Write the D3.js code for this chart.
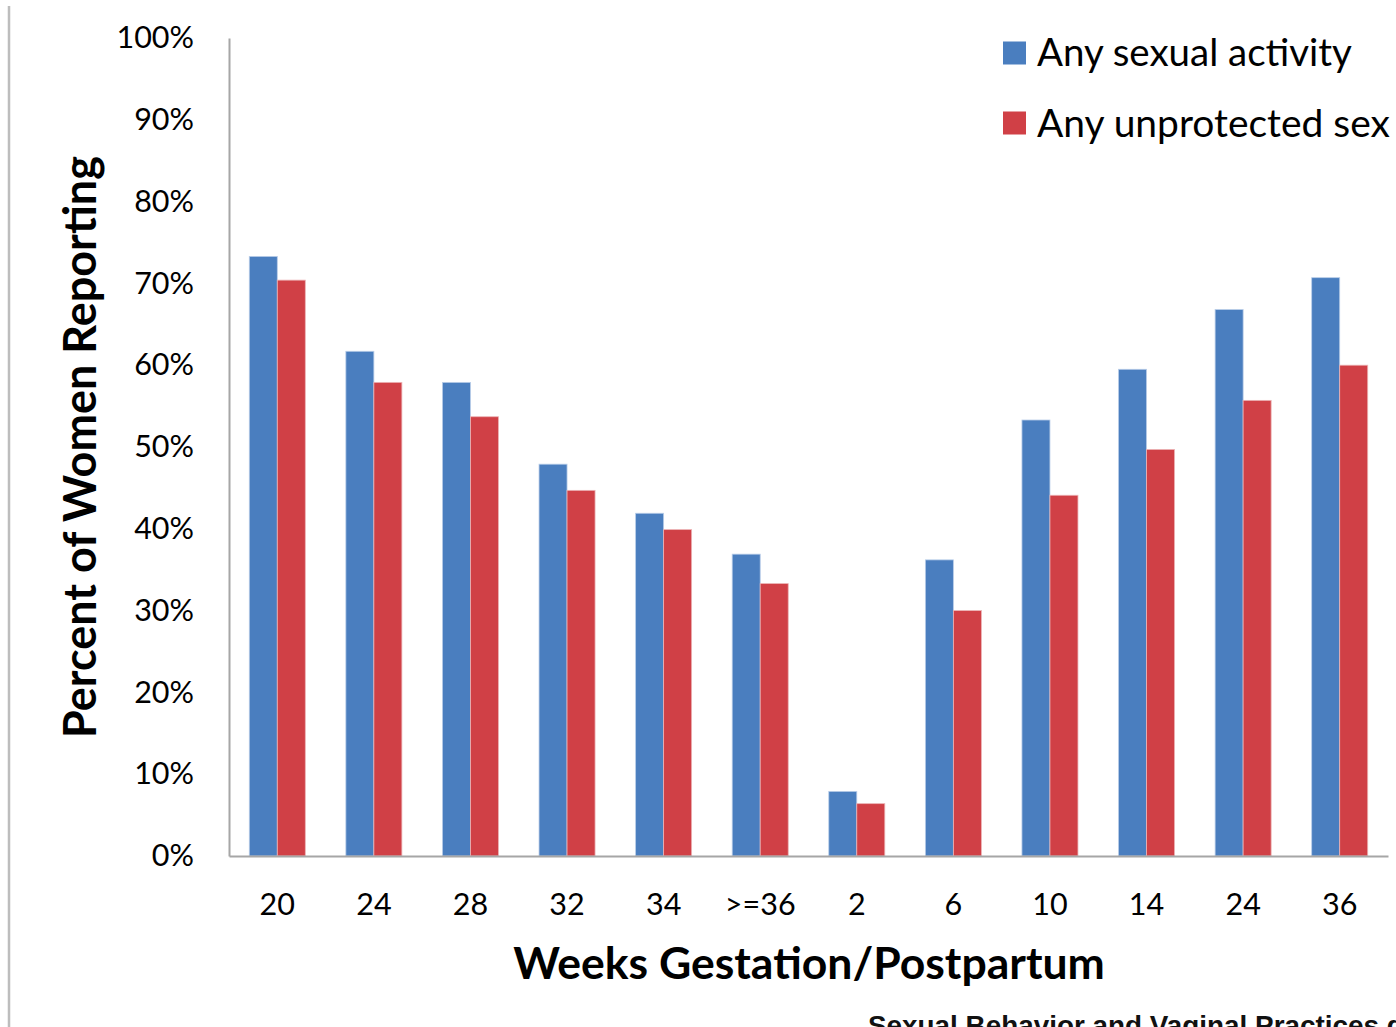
<!DOCTYPE html>
<html><head><meta charset="utf-8">
<script src="https://cdn.jsdelivr.net/npm/d3@7"></script>
<style>body{margin:0;background:#fff}svg{display:block}</style>
</head><body>
<svg id="c" width="1396" height="1027"></svg>
<script>
const categories = ["20","24","28","32","34",">=36","2","6","10","14","24","36"];
const seriesNames = ["Any sexual activity","Any unprotected sex"];
const sexualActivity = [73.3, 61.7, 57.9, 47.9, 41.9, 36.9, 7.9, 36.2, 53.3, 59.5, 66.8, 70.7];
const unprotectedSex = [70.4, 57.9, 53.7, 44.7, 39.9, 33.3, 6.4, 30.0, 44.1, 49.7, 55.7, 60.0];
const yTicks = [0,10,20,30,40,50,60,70,80,90,100];
const colors = ["#4a7ebf","#d04046"];
const footnote = "Sexual Behavior and Vaginal Practices d";

(function(){
const svg = d3.select("#c");
const font = "Lato, 'Open Sans', sans-serif";
const L = 229, R = 1388, T = 38, B = 856;

const x = d3.scaleBand().domain(d3.range(categories.length)).range([L, R]).paddingInner(0.42).paddingOuter(0.21);
const xs = d3.scaleBand().domain([0,1]).range([0, x.bandwidth()]);
const y = d3.scaleLinear().domain([0,100]).range([B, T]);

function fit(sel, w){ const n=sel.node(); const l=n.getComputedTextLength(); const fs=parseFloat(sel.attr("font-size")); sel.attr("font-size", fs*w/l); }

svg.append("line").attr("x1",9).attr("x2",9).attr("y1",6).attr("y2",1027).attr("stroke","#bdbdbd").attr("stroke-width",2.5);

const ya = svg.append("g").attr("transform",`translate(${L},0)`)
  .call(d3.axisLeft(y).tickValues(yTicks).tickSize(0).tickPadding(35).tickFormat(d=>d+"%"));
ya.select(".domain").attr("stroke","#a6a6a6").attr("stroke-width",2);
ya.selectAll("text").attr("font-family",font).attr("font-size",30.5).attr("fill","#000");

const data = [sexualActivity, unprotectedSex];
data.forEach((arr,si)=>{
  svg.append("g").selectAll("rect").data(arr).join("rect")
    .attr("x",(d,i)=>x(i)+xs(si)).attr("width",xs.bandwidth())
    .attr("y",d=>y(d)).attr("height",d=>B-y(d))
    .attr("fill",colors[si]).attr("stroke", si===0?"#b9cde8":"#ecb3b5").attr("stroke-width",0.8);
});

const xa = svg.append("g").attr("transform",`translate(0,${B})`)
  .call(d3.axisBottom(x).tickSize(0).tickPadding(37).tickFormat(i=>categories[i]));
xa.select(".domain").attr("stroke","#a6a6a6").attr("stroke-width",2);
xa.selectAll("text").attr("font-family",font).attr("font-size",30.5).attr("fill","#000");

const xt = svg.append("text").attr("x",(513+1105)/2).attr("y",979).attr("text-anchor","middle")
  .attr("font-family",font).attr("font-weight","bold").attr("font-size",42).text("Weeks Gestation/Postpartum");
fit(xt,592);
const yt = svg.append("text").attr("transform","translate(96,447) rotate(-90)").attr("text-anchor","middle")
  .attr("font-family",font).attr("font-weight","bold").attr("font-size",42).text("Percent of Women Reporting");
fit(yt,582);

const lg = svg.append("g");
seriesNames.forEach((n,i)=>{
  const cy = 53 + i*70;
  lg.append("rect").attr("x",1003).attr("y",cy-11.5).attr("width",23).attr("height",23).attr("fill",colors[i]);
  const t = lg.append("text").attr("x",1037).attr("y",cy).attr("dy","0.35em").attr("font-family",font).attr("font-size",36).text(n);
  fit(t, i===0?315:353);
});

const fn = svg.append("text").attr("x",868).attr("y",1035).attr("font-family","'Liberation Sans', Arial, sans-serif")
  .attr("font-weight","bold").attr("font-size",22).attr("fill","#111").text(footnote);
fit(fn, 536);
})();
</script>
</body></html>
